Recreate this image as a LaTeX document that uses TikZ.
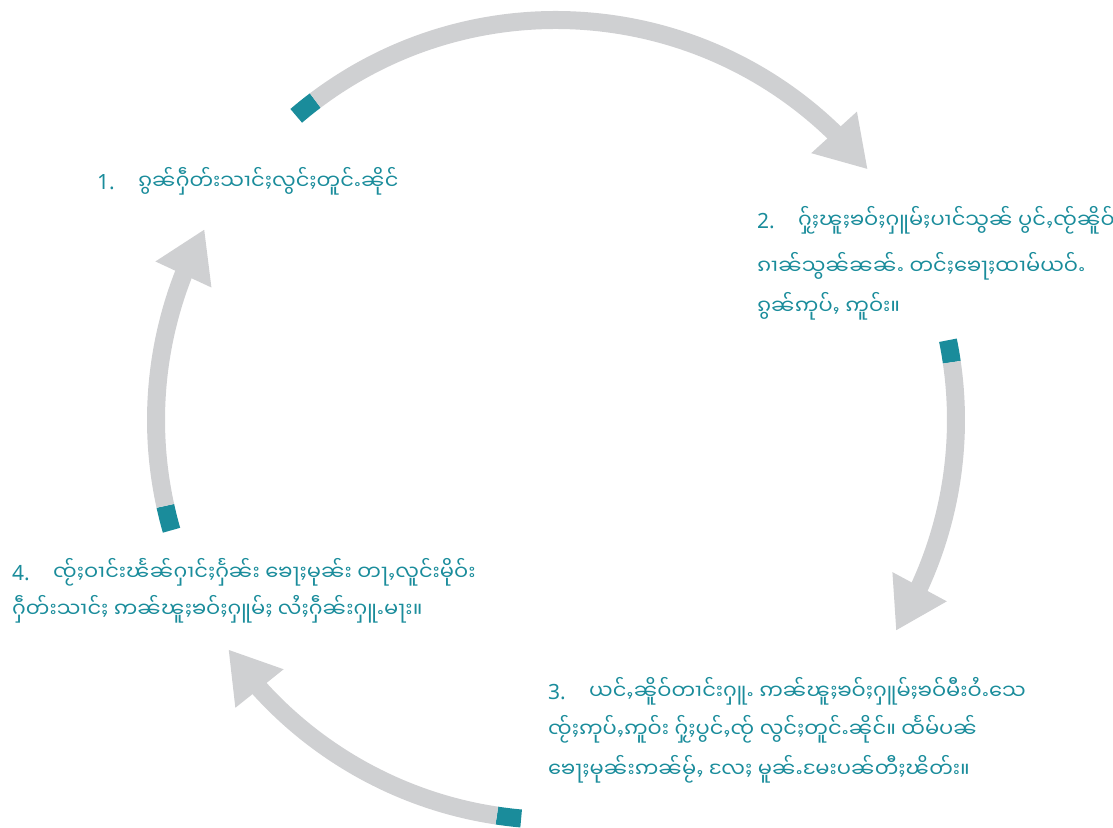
\documentclass[tikz,border=0pt]{standalone}
\usepackage{fontspec}
\setmainfont{Noto Sans}
\newfontfamily\shan[Script=Myanmar]{Noto Sans Myanmar UI}
\usetikzlibrary{arrows.meta,bending}
\definecolor{stepteal}{HTML}{1A8C9B}
\definecolor{ringgray}{HTML}{CFD0D2}
\tikzset{
  steptext/.style={anchor=base west, inner sep=0pt, text=stepteal, font=\fontsize{21}{25}\selectfont},
  ring/.style={draw=ringgray, line width=18pt, -{Triangle[length=50pt,width=58pt]}},
  tab/.style={draw=stepteal, line width=18pt},
}
\newcommand{\stepno}[1]{\makebox[41pt][l]{#1}}
\begin{document}
\begin{tikzpicture}[x=1pt,y=1pt]
    \useasboundingbox (0,0) rectangle (1113,827);
    \coordinate (c) at (556,407);
    % tab start / tab end / arrow end
    \foreach \a/\b/\e in {130.5/127/38.8, 11.5/8.3/-31.8, 265/261.5/215, 196/192.4/151.5}{
        \draw[tab] (c) ++(\a:400) arc[start angle=\a, end angle=\b, radius=400];
        \draw[ring] (c) ++(\b:400) arc[start angle=\b, end angle=\e, radius=400];
    }
    \node[steptext] (s1) at (97,637) {\stepno{1.}{\shan ၵွၼ်ႁဵတ်းသၢင်ႈလွင်ႈတူင်ႉၼိုင်}};
    \node[steptext] (s2a) at (757,598) {\stepno{2.}{\shan ႁႂ်ႈၽူႈၶဝ်ႈႁူမ်ႈပၢင်သွၼ် ပွင်ႇၸႂ်ၼိူဝ်}};
    \node[steptext] (s2b) at (757,552) {\shan ၵၢၼ်သွၼ်ၼၼ်ႉ တင်ႈၶေႃႈထၢမ်ယဝ်ႉ};
    \node[steptext] (s2c) at (757,512) {\shan ၵွၼ်ဢုပ်ႇ ဢူဝ်း။};
    \node[steptext] (s3a) at (548,127) {\stepno{3.}{\shan ယင်ႇၼိူဝ်တၢင်းႁူႉ ဢၼ်ၽူႈၶဝ်ႈႁူမ်ႈၶဝ်မီးဝႆႉသေ}};
    \node[steptext] (s3b) at (548,89) {\shan ၸႂ်ႈဢုပ်ႇဢူဝ်း ႁႂ်ႈပွင်ႇၸႂ် လွင်ႈတူင်ႉၼိုင်။ ထႅမ်ပၼ်};
    \node[steptext] (s3c) at (548,49) {\shan ၶေႃႈမုၼ်းဢၼ်မႂ်ႇ လႄႈ မူၼ်ႉမႄးပၼ်တီႈၽိတ်း။};
    \node[steptext] (s4a) at (12,246) {\stepno{4.}{\shan ၸႂ်ႈဝၢင်းၽႅၼ်ႁၢင်ႈႁႅၼ်း ၶေႃႈမုၼ်း တႃႇလူင်းမိုဝ်း}};
    \node[steptext] (s4b) at (12,209) {\shan ႁဵတ်းသၢင်ႈ ဢၼ်ၽူႈၶဝ်ႈႁူမ်ႈ လႆႈႁဵၼ်းႁူႉမႃး။};
\end{tikzpicture}
\end{document}
